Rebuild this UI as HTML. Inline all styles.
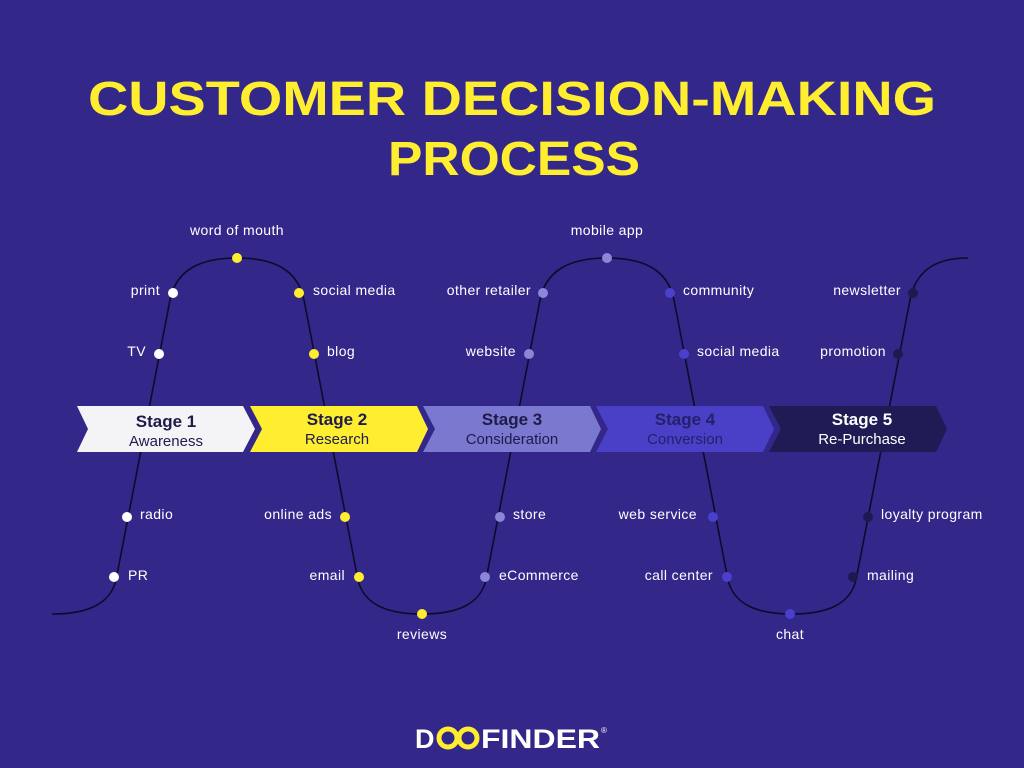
<!DOCTYPE html>
<html><head><meta charset="utf-8"><style>
html,body{margin:0;padding:0;background:#33278a;}
svg{display:block}
.l{font-family:"Liberation Sans",sans-serif;font-size:14px;letter-spacing:0.4px;fill:#ffffff;}
</style></head><body>
<svg width="1024" height="768" viewBox="0 0 1024 768" xmlns="http://www.w3.org/2000/svg">
<rect width="1024" height="768" fill="#33278a"/>
<text x="512" y="115" text-anchor="middle" font-family="Liberation Sans,sans-serif" font-weight="bold" font-size="48" fill="#ffee30" textLength="848" lengthAdjust="spacingAndGlyphs">CUSTOMER DECISION-MAKING</text>
<text x="514" y="175" text-anchor="middle" font-family="Liberation Sans,sans-serif" font-weight="bold" font-size="48" fill="#ffee30" textLength="252" lengthAdjust="spacingAndGlyphs">PROCESS</text>

<path d="M52,614 C86,614 110,605 116,580 L170,300 C176,270 200,258 237,258 C274,258 298,270 304,300 L358,580 C364,605 388,614 422,614 C456,614 480,605 486,580 L540,300 C546,270 570,258 607,258 C644,258 668,270 674,300 L728,580 C734,605 758,614 792,614 C826,614 850,605 856,580 L910,300 C916,270 936,258 968,258" fill="none" stroke="#0d0b2a" stroke-width="1.6"/>

<g>
<polygon points="77,406 243,406 255,429 243,452 77,452 88,429" fill="#f4f4f6"/>
<polygon points="250,406 417,406 428,429 417,452 250,452 262,429" fill="#ffee30"/>
<polygon points="423,406 590,406 601,429 590,452 423,452 435,429" fill="#7b78d0"/>
<polygon points="596,406 763,406 774,429 763,452 596,452 608,429" fill="#4a40c8"/>
<polygon points="769,406 936,406 947,429 936,452 769,452 781,429" fill="#1e1b55"/>
</g>
<g font-family="Liberation Sans,sans-serif" text-anchor="middle">
<text x="166" y="427" font-size="17" font-weight="bold" fill="#1e1b4b">Stage 1</text>
<text x="166" y="446" font-size="15" fill="#1e1b4b">Awareness</text>
<text x="337" y="425" font-size="17" font-weight="bold" fill="#1e1b4b">Stage 2</text>
<text x="337" y="444" font-size="15" fill="#1e1b4b">Research</text>
<text x="512" y="425" font-size="17" font-weight="bold" fill="#1e1b4b">Stage 3</text>
<text x="512" y="444" font-size="15" fill="#1e1b4b">Consideration</text>
<text x="685" y="425" font-size="17" font-weight="bold" fill="#24206a">Stage 4</text>
<text x="685" y="444" font-size="15" fill="#24206a">Conversion</text>
<text x="862" y="425" font-size="17" font-weight="bold" fill="#ffffff">Stage 5</text>
<text x="862" y="444" font-size="15" fill="#ffffff">Re-Purchase</text>
</g>

<g fill="#ffffff">
<circle cx="114" cy="577" r="5"/><circle cx="127" cy="517" r="5"/><circle cx="159" cy="354" r="5"/><circle cx="173" cy="293" r="5"/>
</g>
<g fill="#ffee30">
<circle cx="237" cy="258" r="5"/><circle cx="299" cy="293" r="5"/><circle cx="314" cy="354" r="5"/><circle cx="345" cy="517" r="5"/><circle cx="359" cy="577" r="5"/><circle cx="422" cy="614" r="5"/>
</g>
<g fill="#8a86d8">
<circle cx="485" cy="577" r="5"/><circle cx="500" cy="517" r="5"/><circle cx="529" cy="354" r="5"/><circle cx="543" cy="293" r="5"/><circle cx="607" cy="258" r="5"/>
</g>
<g fill="#4b40cc">
<circle cx="670" cy="293" r="5"/><circle cx="684" cy="354" r="5"/><circle cx="713" cy="517" r="5"/><circle cx="727" cy="577" r="5"/><circle cx="790" cy="614" r="5"/>
</g>
<g fill="#1e1a50">
<circle cx="853" cy="577" r="5"/><circle cx="868" cy="517" r="5"/><circle cx="898" cy="354" r="5"/><circle cx="913" cy="293" r="5"/>
</g>

<g class="l">
<text class="l" x="237" y="235" text-anchor="middle">word of mouth</text>
<text class="l" x="160" y="295" text-anchor="end">print</text>
<text class="l" x="146" y="356" text-anchor="end">TV</text>
<text class="l" x="140" y="519">radio</text>
<text class="l" x="128" y="580">PR</text>
<text class="l" x="313" y="295">social media</text>
<text class="l" x="327" y="356">blog</text>
<text class="l" x="332" y="519" text-anchor="end">online ads</text>
<text class="l" x="345" y="580" text-anchor="end">email</text>
<text class="l" x="422" y="639" text-anchor="middle">reviews</text>
<text class="l" x="531" y="295" text-anchor="end">other retailer</text>
<text class="l" x="516" y="356" text-anchor="end">website</text>
<text class="l" x="513" y="519">store</text>
<text class="l" x="499" y="580">eCommerce</text>
<text class="l" x="607" y="235" text-anchor="middle">mobile app</text>
<text class="l" x="683" y="295">community</text>
<text class="l" x="697" y="356">social media</text>
<text class="l" x="697" y="519" text-anchor="end">web service</text>
<text class="l" x="713" y="580" text-anchor="end">call center</text>
<text class="l" x="790" y="639" text-anchor="middle">chat</text>
<text class="l" x="901" y="295" text-anchor="end">newsletter</text>
<text class="l" x="886" y="356" text-anchor="end">promotion</text>
<text class="l" x="881" y="519">loyalty program</text>
<text class="l" x="867" y="580">mailing</text>
</g>

<g font-family="Liberation Sans,sans-serif" font-weight="bold" font-size="27" fill="#ffffff">
<text x="415" y="748">D</text>
<ellipse cx="448" cy="738" rx="9" ry="9" fill="none" stroke="#ffee30" stroke-width="5"/>
<ellipse cx="468" cy="738" rx="9" ry="9" fill="none" stroke="#ffee30" stroke-width="5"/>
<text x="481" y="748" textLength="119" lengthAdjust="spacingAndGlyphs">FINDER</text>
<text x="601" y="733" font-size="8" font-weight="normal">®</text>
</g>
</svg>
</body></html>
